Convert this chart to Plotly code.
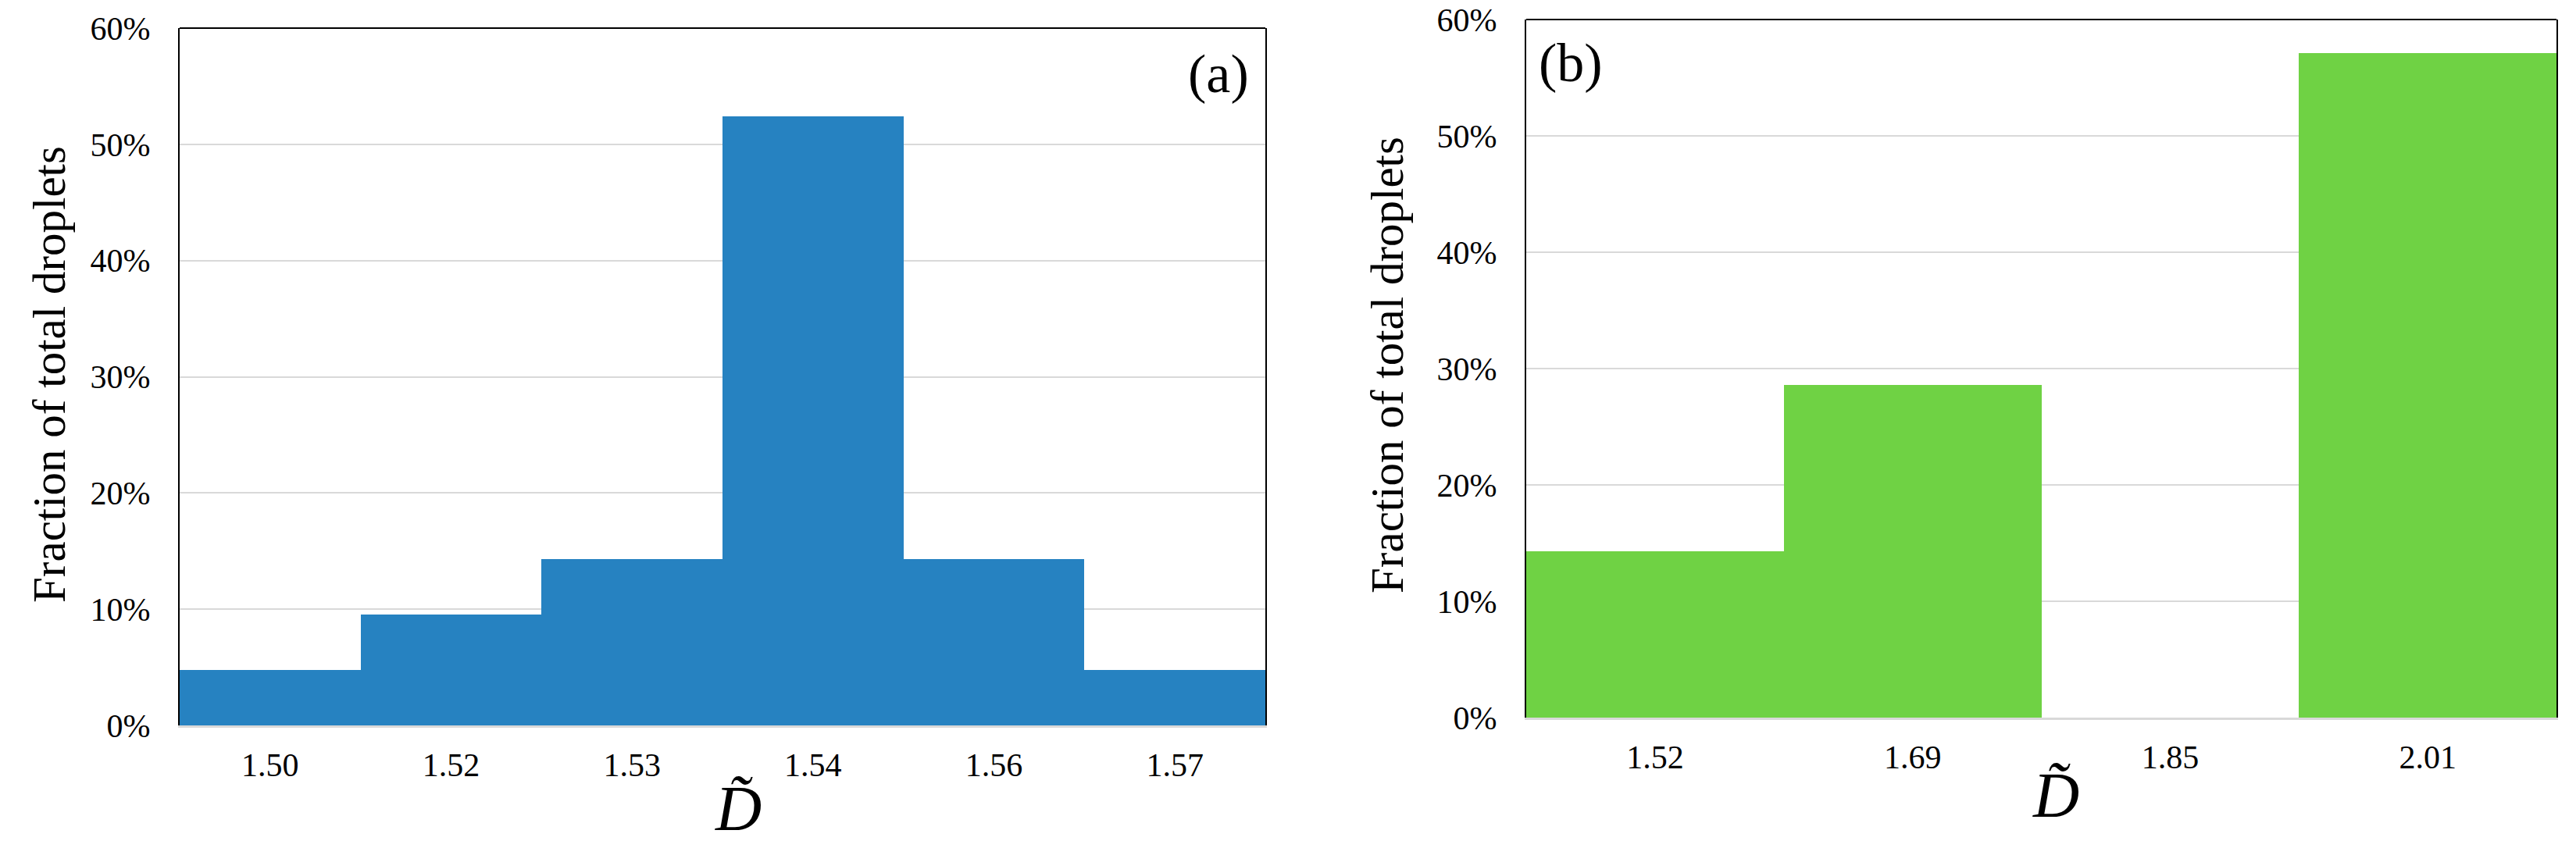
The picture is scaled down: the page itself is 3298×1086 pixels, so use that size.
import plotly.graph_objects as go

# ---- data ----
cats_a = ["1.50", "1.52", "1.53", "1.54", "1.56", "1.57"]
frac_a = [0.0476, 0.0952, 0.1429, 0.5238, 0.1429, 0.0476]

cats_b = ["1.52", "1.69", "1.85", "2.01"]
frac_b = [0.1429, 0.2857, 0.0, 0.5714]

y_ticks = [0, 0.1, 0.2, 0.3, 0.4, 0.5, 0.6]

W, H = 3298, 1086
FONT = "Liberation Serif, Times New Roman, serif"
BLUE = "#2682c1"
GREEN = "#6fd244"


def px_x(p):
    return p / W


def px_y(p):
    return 1 - p / H


fig = go.Figure()
fig.add_trace(go.Bar(x=cats_a, y=frac_a, marker=dict(color=BLUE, line=dict(width=0)),
                     xaxis="x", yaxis="y", showlegend=False))
fig.add_trace(go.Bar(x=cats_b, y=frac_b, marker=dict(color=GREEN, line=dict(width=0)),
                     xaxis="x2", yaxis="y2", showlegend=False))

tickfont = dict(family=FONT, size=42, color="black")

xcommon = dict(showgrid=False, showline=True, linecolor="#d9d9d9", linewidth=3,
               ticks="", tickfont=tickfont, ticklabelstandoff=12, zeroline=False,
               type="category", automargin=False, ticklabeloverflow="allow")
ycommon = dict(range=[0, 0.6], tickvals=y_ticks, tickformat=".0%", showgrid=True,
               gridcolor="#d9d9d9", gridwidth=2, showline=True, mirror=True,
               linecolor="black", linewidth=2, ticks="", tickfont=tickfont,
               ticklabelstandoff=27, zeroline=False, automargin=False,
               ticklabeloverflow="allow")

fig.update_layout(
    width=W, height=H,
    margin=dict(l=0, r=0, t=0, b=0, pad=0),
    paper_bgcolor="white", plot_bgcolor="white",
    bargap=0,
    xaxis=dict(domain=[px_x(230), px_x(1620)], anchor="y", **xcommon),
    yaxis=dict(domain=[px_y(929), px_y(36)], anchor="x", **ycommon),
    xaxis2=dict(domain=[px_x(1954), px_x(3273)], anchor="y2", **xcommon),
    yaxis2=dict(domain=[px_y(919), px_y(25)], anchor="x2", **ycommon),
)

# top frame lines
for xr, yr in (("x domain", "y domain"), ("x2 domain", "y2 domain")):
    fig.add_shape(type="line", xref=xr, yref=yr, x0=0, x1=1, y0=1, y1=1,
                  line=dict(color="black", width=2), layer="above")

ann = []
common = dict(xref="paper", yref="paper", showarrow=False, xanchor="center", yanchor="middle")
# y-axis titles
ann.append(dict(text="Fraction of total droplets", x=px_x(63), y=px_y(480), textangle=-90,
                font=dict(family=FONT, size=59, color="black"), **common))
ann.append(dict(text="Fraction of total droplets", x=px_x(1776), y=px_y(468), textangle=-90,
                font=dict(family=FONT, size=59, color="black"), **common))
# x-axis titles
for cx, cy in ((945, 1035), (2632, 1018)):
    ann.append(dict(text="<i>D\u0303</i>", x=px_x(cx), y=px_y(cy),
                    font=dict(family=FONT, size=82, color="black"), **common))
# panel labels
ann.append(dict(text="(a)", x=px_x(1560), y=px_y(94),
                font=dict(family=FONT, size=70, color="black"), **common))
ann.append(dict(text="(b)", x=px_x(2011), y=px_y(80),
                font=dict(family=FONT, size=70, color="black"), **common))
fig.update_layout(annotations=ann)

fig.write_html("out.html", config={"displayModeBar": False},
               post_script="document.body.style.margin='0';document.body.style.padding='0';")
